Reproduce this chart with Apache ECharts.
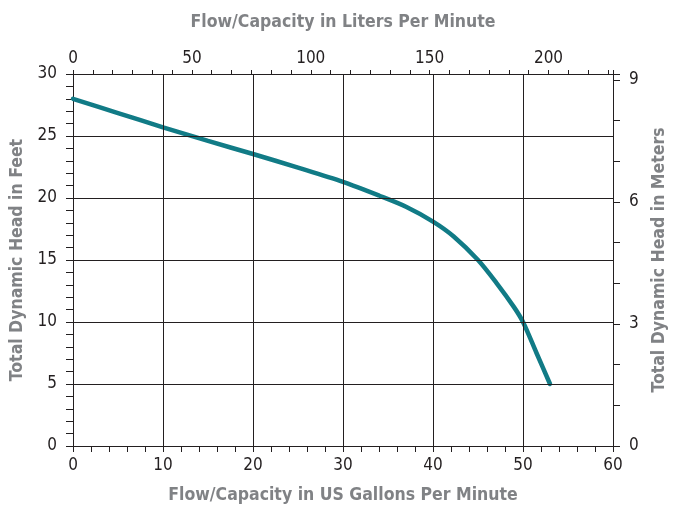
<!DOCTYPE html>
<html><head><meta charset="utf-8">
<script src="https://cdn.jsdelivr.net/npm/echarts@6/dist/echarts.min.js"></script>
<style>html,body{margin:0;padding:0;background:#fff}#c{width:673px;height:512px}</style>
</head><body><div id="c"></div>
<script>
// Pump curve: flow (US GPM) vs total dynamic head (feet)
const flowGpm = [0, 5, 10, 15, 20, 25, 30, 34, 37, 40, 42.3, 45, 47, 49, 50, 51.5, 53];
const headFeet = [28.0, 26.85, 25.7, 24.6, 23.55, 22.45, 21.3, 20.2, 19.3, 18.1, 16.9, 15.0, 13.2, 11.2, 10.0, 7.5, 5.0];
const gpmTicks = [0, 10, 20, 30, 40, 50, 60];
const lpmTicks = [0, 50, 100, 150, 200];
const feetTicks = [0, 5, 10, 15, 20, 25, 30];
const meterTicks = [0, 3, 6, 9];

const GAL_TO_L = 3.78541, FT_TO_M = 0.3048;
const gpmMax = 60, feetMax = 30;
const FF = "'DejaVu Sans Condensed','DejaVu Sans',sans-serif";
const tickFont = { color: '#231f20', fontSize: 17, fontFamily: FF };
const nameFont = { color: '#808285', fontSize: 17.5, fontWeight: 'bold', fontFamily: FF };
const ink = '#231f20';
const axisLineStyle = { show: true, onZero: false, lineStyle: { color: ink, width: 1 } };
const near = (v, m) => Math.abs(v / m - Math.round(v / m)) < 1e-6;
const fmtFrom = (list, step) => v => {
  const r = Math.round(v);
  return (near(v, step) && list.includes(r)) ? String(r) : '';
};

const chart = echarts.init(document.getElementById('c'), null, { renderer: 'canvas' });
chart.setOption({
  animation: false,
  grid: { left: 73, right: 60, top: 74, bottom: 66, outerBoundsMode: 'none', containLabel: false },
  xAxis: [
    { // bottom: ticks every 2 GPM, labels every 10
      type: 'value', position: 'bottom', min: 0, max: gpmMax, interval: 2,
      name: 'Flow/Capacity in US Gallons Per Minute', nameLocation: 'middle', nameGap: 40,
      nameTextStyle: nameFont,
      axisLine: axisLineStyle,
      axisTick: { show: true, inside: false, length: 6, lineStyle: { color: ink } },
      axisLabel: Object.assign({ margin: 11, formatter: fmtFrom(gpmTicks, 10) }, tickFont),
      splitLine: { show: false }
    },
    { // top: litres per minute
      type: 'value', position: 'top', min: 0, max: gpmMax * GAL_TO_L, interval: 25 / 3,
      name: 'Flow/Capacity in Liters Per Minute', nameLocation: 'middle', nameGap: 43,
      nameTextStyle: nameFont,
      axisLine: axisLineStyle,
      axisTick: { show: true, inside: false, length: 4, lineStyle: { color: ink } },
      axisLabel: Object.assign({ margin: 7, formatter: fmtFrom(lpmTicks, 50) }, tickFont),
      splitLine: { show: false }
    }
  ],
  yAxis: [
    { // left: ticks every foot, labels every 5
      type: 'value', position: 'left', min: 0, max: feetMax, interval: 1,
      name: 'Total Dynamic Head in Feet', nameLocation: 'middle', nameGap: 40,
      nameTextStyle: nameFont,
      axisLine: axisLineStyle,
      axisTick: { show: true, inside: false, length: 7, lineStyle: { color: ink } },
      axisLabel: Object.assign({ margin: 16, formatter: fmtFrom(feetTicks, 5) }, tickFont),
      splitLine: { show: false }
    },
    { // right: metres
      type: 'value', position: 'right', min: 0, max: feetMax * FT_TO_M, interval: 1,
      name: 'Total Dynamic Head in Meters', nameLocation: 'middle', nameGap: 37,
      nameTextStyle: nameFont,
      axisLine: axisLineStyle,
      axisTick: { show: true, inside: false, length: 7, lineStyle: { color: ink } },
      axisLabel: Object.assign({ margin: 16, formatter: fmtFrom(meterTicks, 3) }, tickFont),
      splitLine: { show: false }
    }
  ],
  series: [{
    type: 'line', xAxisIndex: 0, yAxisIndex: 0,
    data: flowGpm.map((x, i) => [x, headFeet[i]]),
    smooth: 0.3, showSymbol: false, symbol: 'none',
    lineStyle: { color: '#117b86', width: 4.5, cap: 'round' },
    markLine: {
      silent: true, symbol: 'none', label: { show: false }, animation: false,
      lineStyle: { color: ink, width: 1, type: 'solid' },
      data: gpmTicks.slice(1, -1).map(v => ({ xAxis: v }))
        .concat(feetTicks.slice(1, -1).map(v => ({ yAxis: v })))
    },
    z: 3
  }]
});
</script></body></html>
